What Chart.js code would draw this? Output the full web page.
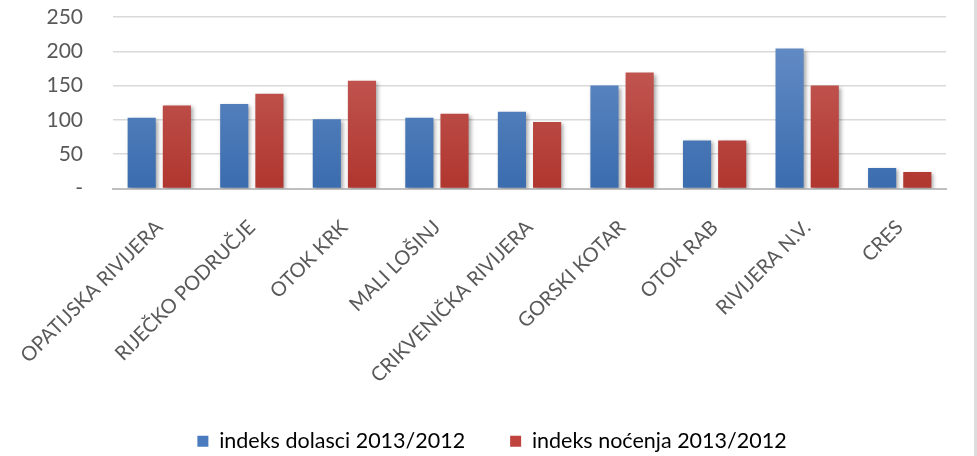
<!DOCTYPE html>
<html>
<head>
<meta charset="utf-8">
<script src="https://cdn.jsdelivr.net/npm/chart.js@4"></script>
<style>
  html, body { margin: 0; padding: 0; background: #fff; }
  #wrap { position: relative; width: 974px; height: 456px; border-right: 3px solid #dcdcdc; }
</style>
</head>
<body>
<div id="wrap"><canvas id="c"></canvas></div>
<script>
const categories = ["OPATIJSKA RIVIJERA", "RIJEČKO PODRUČJE", "OTOK KRK", "MALI LOŠINJ", "CRIKVENIČKA RIVIJERA", "GORSKI KOTAR", "OTOK RAB", "RIVIJERA N.V.", "CRES"];
const dolasci = [103, 123, 101, 103, 112, 150, 70, 204, 30];
const nocenja = [121, 138, 157, 109, 97, 169, 70, 150, 24];
const seriesNames = ["indeks dolasci 2013/2012", "indeks noćenja 2013/2012"];
const yTicks = [0, 50, 100, 150, 200, 250];

const FONT = "Lato, 'Open Sans', sans-serif";

function grad(ctx, top, bottom) {
  const chart = ctx.chart;
  const area = chart.chartArea;
  if (!area) return bottom;
  const el = ctx.element;
  const y0 = el && el.y !== undefined ? el.y : area.top;
  const y1 = el && el.base !== undefined ? el.base : area.bottom;
  if (!isFinite(y0) || !isFinite(y1) || y0 === y1) return bottom;
  const g = chart.ctx.createLinearGradient(0, y0, 0, y1);
  g.addColorStop(0, top);
  g.addColorStop(1, bottom);
  return g;
}

const shadowPlugin = {
  id: 'shadow',
  beforeDatasetsDraw(chart) {
    const c = chart.ctx;
    c.save();
    c.shadowColor = 'rgba(0,0,0,0.35)';
    c.shadowBlur = 4;
    c.shadowOffsetX = 2;
    c.shadowOffsetY = 2;
  },
  afterDatasetsDraw(chart) { chart.ctx.restore(); }
};

new Chart(document.getElementById('c'), {
  type: 'bar',
  data: {
    labels: categories,
    datasets: [
      {
        label: seriesNames[0],
        data: dolasci,
        backgroundColor: (ctx) => grad(ctx, '#6a91c9', '#3a6cae'),
        borderWidth: 0,
        categoryPercentage: 0.76,
        barPercentage: 0.8
      },
      {
        label: seriesNames[1],
        data: nocenja,
        backgroundColor: (ctx) => grad(ctx, '#c8635f', '#b0362f'),
        borderWidth: 0,
        categoryPercentage: 0.76,
        barPercentage: 0.8
      }
    ]
  },
  plugins: [shadowPlugin],
  options: {
    responsive: true,
    maintainAspectRatio: false,
    animation: false,
    layout: { padding: { top: 17, right: 28, left: 38, bottom: -6 } },
    plugins: {
      tooltip: { enabled: false },
      legend: {
        position: 'bottom',
        labels: {
          boxWidth: 11,
          boxHeight: 11,
          padding: 45,
          color: '#595959',
          font: { family: FONT, size: 21.5 },
          generateLabels(chart) {
            const cols = ['#4a7bbe', '#c0433e'];
            return chart.data.datasets.map((d, i) => ({
              text: d.label,
              fillStyle: cols[i],
              strokeStyle: cols[i],
              lineWidth: 0,
              datasetIndex: i,
              hidden: false
            }));
          }
        }
      }
    },
    scales: {
      x: {
        grid: { display: false, drawTicks: false },
        border: { display: true, color: '#bfbfbf', width: 2 },
        ticks: {
          color: '#595959',
          font: { family: FONT, size: 20 },
          maxRotation: 45,
          minRotation: 45,
          padding: 27,
          autoSkip: false
        },
        afterFit(scale) {
          scale.height = 197;
          scale.paddingLeft = 0;
          scale.paddingRight = 0;
        }
      },
      y: {
        min: 0,
        max: 250,
        afterBuildTicks(scale) { scale.ticks = yTicks.map(v => ({ value: v })); },
        grid: {
          color: (ctx) => ctx.tick && ctx.tick.value === 0 ? 'rgba(0,0,0,0)' : '#d9d9d9',
          lineWidth: 1.5,
          drawTicks: true,
          tickLength: 30,
          tickColor: 'rgba(0,0,0,0)'
        },
        border: { display: false },
        ticks: {
          color: '#595959',
          font: { family: FONT, size: 21 },
          padding: 0,
          callback: (v) => v === 0 ? '-' : String(v)
        },
        afterFit(scale) { scale.width = 75; }
      }
    }
  }
});
</script>
</body>
</html>
